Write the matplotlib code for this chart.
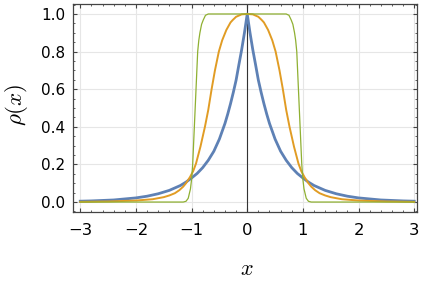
import numpy as np
import matplotlib.pyplot as plt
from matplotlib.ticker import MultipleLocator

# values (curves are symmetric about x = 0, right half given)
x_blue = [0.0, 0.05, 0.1, 0.15, 0.2, 0.25, 0.3, 0.35, 0.4, 0.5, 0.6, 0.7, 0.8, 0.9,
          1.0, 1.1, 1.2, 1.4, 1.6, 1.8, 2.0, 2.4, 2.8, 3.0]
y_blue = [1.0, 0.9, 0.81, 0.73, 0.648, 0.583, 0.523, 0.468, 0.418, 0.335, 0.27, 0.222,
          0.183, 0.152, 0.128, 0.106, 0.088, 0.062, 0.044, 0.031, 0.022, 0.011, 0.006,
          0.0045]

x_orange = [0.0, 0.1, 0.2, 0.26, 0.3, 0.375, 0.45, 0.51, 0.58, 0.64, 0.7, 0.76, 0.84,
            0.92, 0.97, 1.03, 1.1, 1.15, 1.22, 1.3, 1.4, 1.5, 1.7, 2.0, 2.5, 3.0]
y_orange = [1.0, 0.998, 0.985, 0.968, 0.955, 0.915, 0.86, 0.8, 0.7, 0.6, 0.49, 0.4,
            0.295, 0.205, 0.165, 0.132, 0.1, 0.082, 0.063, 0.047, 0.035, 0.026, 0.015,
            0.008, 0.003, 0.001]

x_green = [0.0, 0.5, 0.7, 0.75, 0.79, 0.82, 0.85, 0.87, 0.89, 0.92, 0.95, 0.98, 1.0,
           1.02, 1.06, 1.1, 1.15, 2.0, 3.0]
y_green = [1.0, 1.0, 1.0, 0.993, 0.968, 0.945, 0.9, 0.86, 0.8, 0.6, 0.4, 0.2, 0.12,
           0.07, 0.02, 0.004, 0.0, 0.0, 0.0]

def mirror(xs, ys):
    xs = np.array(xs)
    ys = np.array(ys)
    return np.concatenate([-xs[:0:-1], xs]), np.concatenate([ys[:0:-1], ys])

plt.rcParams['mathtext.fontset'] = 'cm'
fig = plt.figure(figsize=(4.23, 2.86), dpi=100)
ax = fig.add_axes([0.1726, 0.2587, 0.8132, 0.7273])

xb, yb = mirror(x_blue, y_blue)
xo, yo = mirror(x_orange, y_orange)
xg, yg = mirror(x_green, y_green)
ax.plot(xb, yb, color='#5E81B5', lw=2.0, zorder=3, solid_joinstyle='round')
ax.plot(xo, yo, color='#E19C24', lw=1.4, zorder=4, solid_joinstyle='round')
ax.plot(xg, yg, color='#8FB032', lw=0.9, zorder=5, solid_joinstyle='round')

ax.axvline(0, color='#333333', lw=0.8, zorder=2)

ax.set_xlim(-3.13, 3.05)
ax.set_ylim(-0.053, 1.053)
ax.xaxis.set_major_locator(MultipleLocator(1))
ax.xaxis.set_minor_locator(MultipleLocator(0.2))
ax.yaxis.set_major_locator(MultipleLocator(0.2))
ax.yaxis.set_minor_locator(MultipleLocator(0.05))
ax.yaxis.set_major_formatter(plt.FuncFormatter(lambda v, p: f'{v:.1f}'))
ax.xaxis.set_major_formatter(plt.FuncFormatter(lambda v, p: f'{int(round(v))}'.replace('-', '\u2212')))

ax.grid(True, which='major', color='#e6e6e6', lw=0.8, zorder=0)
ax.set_axisbelow(True)
ax.tick_params(which='both', direction='in', top=True, right=True,
               colors='#444444', labelcolor='black')
ax.tick_params(which='major', length=3, width=0.8)
ax.tick_params(which='minor', length=1.7, width=0.6)
ax.tick_params(axis='x', which='major', labelsize=11.8, pad=8)
ax.tick_params(axis='y', which='major', labelsize=11, pad=5.5)
for s in ax.spines.values():
    s.set_color('#444444')
    s.set_linewidth(0.9)

fig.text(0.038, 0.633, r'$\rho(x)$', rotation=90, ha='center', va='center', fontsize=16.5)
fig.text(0.584, 0.059, r'$x$', ha='center', va='center', fontsize=16)

fig.savefig('out.png', dpi=100)
